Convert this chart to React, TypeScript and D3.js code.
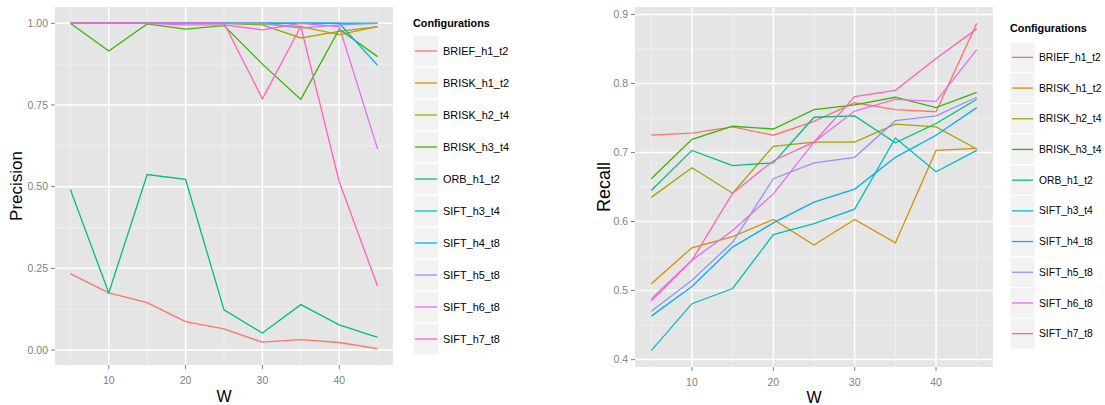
import React from "react";
import * as d3 from "d3";

const W = [5, 10, 15, 20, 25, 30, 35, 40, 45];
const configurations = [
  "BRIEF_h1_t2", "BRISK_h1_t2", "BRISK_h2_t4", "BRISK_h3_t4", "ORB_h1_t2",
  "SIFT_h3_t4", "SIFT_h4_t8", "SIFT_h5_t8", "SIFT_h6_t8", "SIFT_h7_t8",
];
const palette = [
  "#F8766D", "#D89000", "#A3A500", "#39B600", "#00BF7D",
  "#00BFC4", "#00B0F6", "#9590FF", "#E76BF3", "#FF62BC",
];

// Precision per configuration
const precBRIEF_h1_t2 = [0.234, 0.175, 0.145, 0.087, 0.065, 0.024, 0.032, 0.023, 0.004];
const precBRISK_h1_t2 = [1, 1, 1, 1, 1, 0.998, 0.99, 0.965, 0.99];
const precBRISK_h2_t4 = [1, 1, 1, 1, 1, 0.995, 0.955, 0.975, 0.99];
const precBRISK_h3_t4 = [1, 0.915, 0.998, 0.982, 0.993, 0.875, 0.767, 0.982, 0.898];
const precORB_h1_t2 = [0.491, 0.175, 0.537, 0.522, 0.123, 0.052, 0.139, 0.077, 0.039];
const precSIFT_h3_t4 = [1, 1, 1, 1, 1, 1, 1, 1, 1];
const precSIFT_h4_t8 = [1, 1, 1, 1, 1, 1, 1, 1, 0.871];
const precSIFT_h5_t8 = [1, 1, 1, 1, 1, 1, 0.985, 0.995, 1];
const precSIFT_h6_t8 = [1, 1, 1, 0.995, 0.995, 0.98, 1, 0.99, 0.615];
const precSIFT_h7_t8 = [1, 1, 1, 1, 1, 0.769, 0.99, 0.515, 0.195];

// Recall per configuration
const recBRIEF_h1_t2 = [0.725, 0.728, 0.737, 0.725, 0.745, 0.772, 0.762, 0.759, 0.887];
const recBRISK_h1_t2 = [0.51, 0.562, 0.578, 0.603, 0.566, 0.603, 0.569, 0.703, 0.706];
const recBRISK_h2_t4 = [0.635, 0.678, 0.641, 0.709, 0.715, 0.715, 0.741, 0.737, 0.705];
const recBRISK_h3_t4 = [0.662, 0.719, 0.738, 0.734, 0.762, 0.769, 0.78, 0.765, 0.787];
const recORB_h1_t2 = [0.645, 0.703, 0.681, 0.685, 0.751, 0.753, 0.714, 0.742, 0.777];
const recSIFT_h3_t4 = [0.413, 0.481, 0.503, 0.581, 0.597, 0.618, 0.721, 0.672, 0.703];
const recSIFT_h4_t8 = [0.463, 0.506, 0.563, 0.598, 0.628, 0.647, 0.693, 0.725, 0.765];
const recSIFT_h5_t8 = [0.47, 0.515, 0.57, 0.662, 0.685, 0.693, 0.746, 0.753, 0.78];
const recSIFT_h6_t8 = [0.485, 0.544, 0.587, 0.64, 0.715, 0.76, 0.777, 0.774, 0.849];
const recSIFT_h7_t8 = [0.488, 0.544, 0.641, 0.688, 0.715, 0.781, 0.79, 0.836, 0.879];

const xTicks = [10, 20, 30, 40];
const xMinor = [5, 15, 25, 35, 45];
const precTicks = [0, 0.25, 0.5, 0.75, 1];
const precMinor = [0.125, 0.375, 0.625, 0.875];
const recTicks = [0.4, 0.5, 0.6, 0.7, 0.8, 0.9];
const recMinor = [0.45, 0.55, 0.65, 0.75, 0.85];

const precision = [
  precBRIEF_h1_t2, precBRISK_h1_t2, precBRISK_h2_t4, precBRISK_h3_t4, precORB_h1_t2,
  precSIFT_h3_t4, precSIFT_h4_t8, precSIFT_h5_t8, precSIFT_h6_t8, precSIFT_h7_t8,
];
const recall = [
  recBRIEF_h1_t2, recBRISK_h1_t2, recBRISK_h2_t4, recBRISK_h3_t4, recORB_h1_t2,
  recSIFT_h3_t4, recSIFT_h4_t8, recSIFT_h5_t8, recSIFT_h6_t8, recSIFT_h7_t8,
];

const FONT = "'Liberation Sans', Arial, Helvetica, sans-serif";

type PanelProps = {
  left: number; right: number; top: number; bottom: number;
  series: number[][]; ticks: number[]; minor: number[]; fmt: (v: number) => string;
  yTitle: string; yTitleX: number; yTitleSize: number; tickLabelGap: number;
  legendX: number; legendTitleY: number; legendTop: number; rowH: number; keyW: number;
  legendFont: number; wY: number;
};

function expand(vals: number[]): [number, number] {
  const [a, b] = d3.extent(vals) as [number, number];
  const e = (b - a) * 0.05;
  return [a - e, b + e];
}

function Panel(p: PanelProps) {
  const x = d3.scaleLinear().domain(expand(W)).range([p.left, p.right]);
  const y = d3.scaleLinear().domain(expand(p.series.flat())).range([p.bottom, p.top]);
  const line = d3.line<number>().x((_, i) => x(W[i])).y((v) => y(v));
  const grey = "#7F7F7F";
  return (
    <g>
      <rect x={p.left} y={p.top} width={p.right - p.left} height={p.bottom - p.top} fill="#E5E5E5" />
      {p.minor.map((t) => (
        <line key={"ym" + t} x1={p.left} x2={p.right} y1={y(t)} y2={y(t)} stroke="#F2F2F2" strokeWidth={0.8} />
      ))}
      {xMinor.map((t) => (
        <line key={"xm" + t} y1={p.top} y2={p.bottom} x1={x(t)} x2={x(t)} stroke="#F2F2F2" strokeWidth={0.8} />
      ))}
      {p.ticks.map((t) => (
        <line key={"y" + t} x1={p.left} x2={p.right} y1={y(t)} y2={y(t)} stroke="#FFFFFF" strokeWidth={1.5} />
      ))}
      {xTicks.map((t) => (
        <line key={"x" + t} y1={p.top} y2={p.bottom} x1={x(t)} x2={x(t)} stroke="#FFFFFF" strokeWidth={1.5} />
      ))}
      {p.series.map((s, i) => (
        <path key={configurations[i]} d={line(s) || ""} fill="none" stroke={palette[i]} strokeWidth={1.3} />
      ))}
      {p.ticks.map((t) => (
        <g key={"yl" + t}>
          <line x1={p.left - 4} x2={p.left} y1={y(t)} y2={y(t)} stroke={grey} strokeWidth={1} />
          <text x={p.left - p.tickLabelGap} y={y(t)} dy="0.35em" textAnchor="end" fontSize={10.5} fill={grey} fontFamily={FONT}>
            {p.fmt(t)}
          </text>
        </g>
      ))}
      {xTicks.map((t) => (
        <g key={"xl" + t}>
          <line x1={x(t)} x2={x(t)} y1={p.bottom} y2={p.bottom + 4} stroke={grey} strokeWidth={1} />
          <text x={x(t)} y={p.bottom + 15} dy="0.35em" textAnchor="middle" fontSize={10.5} fill={grey} fontFamily={FONT}>
            {t}
          </text>
        </g>
      ))}
      <text x={(p.left + p.right) / 2} y={p.wY} textAnchor="middle" fontSize={16} fill="#000" fontFamily={FONT}>
        W
      </text>
      <text
        transform={`translate(${p.yTitleX},${(p.top + p.bottom) / 2}) rotate(-90)`}
        dy="0.35em" textAnchor="middle" fontSize={p.yTitleSize} fill="#000" fontFamily={FONT}
      >
        {p.yTitle}
      </text>
      <text x={p.legendX} y={p.legendTitleY} dy="0.35em" fontSize={10.8} fontWeight="bold" fill="#000" fontFamily={FONT}>
        Configurations
      </text>
      {configurations.map((c, i) => {
        const ty = p.legendTop + i * p.rowH;
        return (
          <g key={"lg" + c}>
            <rect x={p.legendX} y={ty} width={p.keyW} height={p.rowH} fill="#F2F2F2" stroke="#FFFFFF" strokeWidth={1} />
            <line x1={p.legendX + 2} x2={p.legendX + p.keyW - 2} y1={ty + p.rowH / 2} y2={ty + p.rowH / 2} stroke={palette[i]} strokeWidth={1.3} />
            <text x={p.legendX + p.keyW + 4} y={ty + p.rowH / 2} dy="0.35em" fontSize={p.legendFont} fill="#000" fontFamily={FONT}>
              {c}
            </text>
          </g>
        );
      })}
    </g>
  );
}

export default function App() {
  return (
    <svg width={1105} height={405} style={{ position: "absolute", left: 0, top: 0, background: "#fff" }}>
      <rect x={0} y={0} width={1105} height={405} fill="#fff" />
      <Panel
        left={55} right={393} top={7} bottom={365}
        series={precision} ticks={precTicks} minor={precMinor} fmt={d3.format(".2f")}
        yTitle="Precision" yTitleX={16} yTitleSize={17} tickLabelGap={7}
        legendX={413} legendTitleY={23} legendTop={35} rowH={32} keyW={26} legendFont={10.9} wY={402}
      />
      <Panel
        left={635} right={993} top={7} bottom={367}
        series={recall} ticks={recTicks} minor={recMinor} fmt={d3.format(".1f")}
        yTitle="Recall" yTitleX={604} yTitleSize={18} tickLabelGap={7}
        legendX={1010} legendTitleY={28} legendTop={42} rowH={30.7} keyW={25} legendFont={10.3} wY={403}
      />
    </svg>
  );
}
